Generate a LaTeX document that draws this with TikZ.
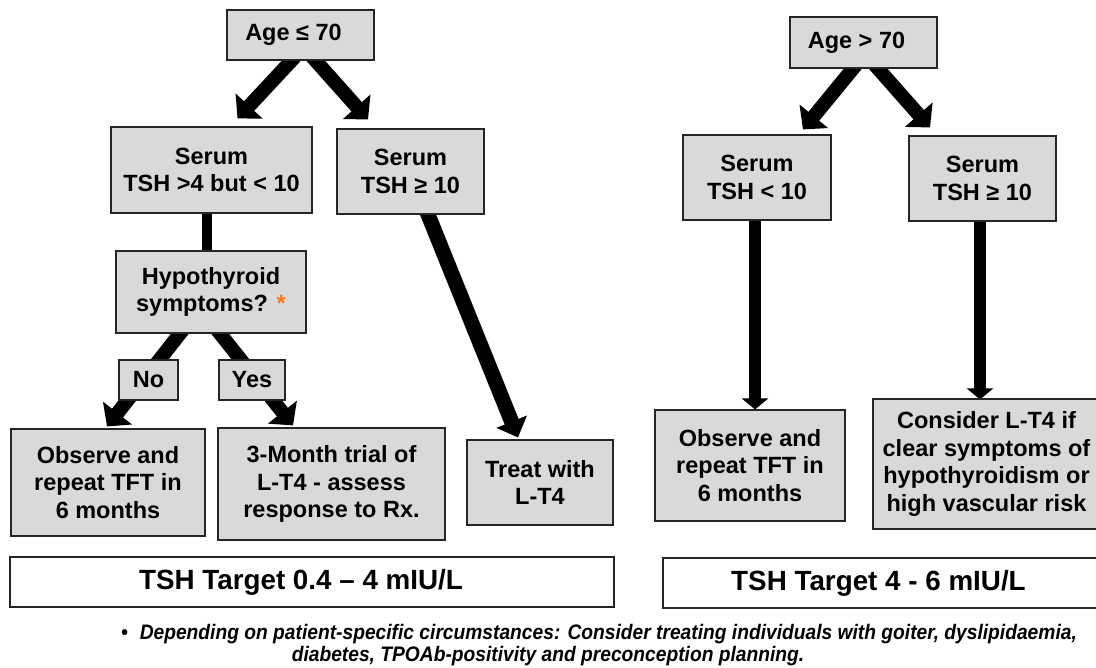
\documentclass[tikz,border=0pt]{standalone}
\usepackage{fontspec}
\setmainfont{Liberation Sans}
\usetikzlibrary{arrows.meta}
\pgfdeclarelayer{back}
\pgfdeclarelayer{bg}
\pgfsetlayers{back,bg,main}
\definecolor{boxgray}{HTML}{D9D9D9}
\definecolor{astorange}{HTML}{F7791E}
\begin{document}
\begin{tikzpicture}[x=1pt,y=-1pt,
  box/.style={draw=black!85, line width=1.1pt, fill=boxgray, inner sep=0pt, align=center,
    font=\bfseries\fontsize{23.5}{27.5}\selectfont},
  tgt/.style={draw=black!85, line width=1.1pt, fill=white, inner sep=0pt,
    font=\bfseries\fontsize{27.8}{30}\selectfont},
  fat/.style={line width=14pt, -{Triangle[width=36pt,length=17pt]}},
  fatter/.style={line width=15pt, -{Triangle[width=32pt,length=17pt]}},
  vert/.style={line width=12pt, -{Triangle[width=26pt,length=11pt]}},
  bar/.style={line width=10pt},
  foot/.style={inner sep=0pt, font=\bfseries\itshape\fontsize{21}{22}\selectfont}
]
\useasboundingbox (0,0) rectangle (1096,668);
\begin{pgfonlayer}{back}
  \fill[white] (0,0) rectangle (1096,668);
\end{pgfonlayer}
\clip (0,0) rectangle (1096,668);

% left tree
\node[box, minimum width=147pt, minimum height=50pt] (a1) at (300.5,35) {Age ≤ 70\hspace*{14pt}};
\node[box, minimum width=201pt, minimum height=86pt] (s1) at (211.5,170) {Serum\\TSH >4 but < 10};
\node[box, minimum width=147pt, minimum height=85pt] (s2) at (410.5,171.5) {Serum\\TSH ≥ 10};
\node[box, minimum width=190pt, minimum height=82pt] (hyp) at (211,292) {Hypothyroid\\symptoms? {\color{astorange}*}};
\node[box, minimum width=59pt, minimum height=40pt] (no) at (148.5,380) {No};
\node[box, minimum width=66pt, minimum height=40pt] (yes) at (252,380) {Yes};
\node[box, minimum width=194pt, minimum height=107pt] (obsL) at (108,482.5) {Observe and\\repeat TFT in\\6 months};
\node[box, minimum width=227pt, minimum height=112pt] (trial) at (331.5,484) {3-Month trial of\\L-T4 - assess\\response to Rx.};
\node[box, minimum width=146pt, minimum height=85pt] (treat) at (540,482.5) {Treat with\\L-T4};
\node[tgt, minimum width=604pt, minimum height=50pt] (tgtL) at (312,582) {TSH Target 0.4 – 4 mIU/L\hspace*{22pt}};

% right tree
\node[box, minimum width=147pt, minimum height=51pt] (a2) at (863.5,42.5) {Age > 70\hspace*{14pt}};
\node[box, minimum width=148pt, minimum height=85pt] (r1) at (757,177.5) {Serum\\TSH < 10};
\node[box, minimum width=147pt, minimum height=85pt] (r2) at (982.5,178.5) {Serum\\TSH ≥ 10};
\node[box, minimum width=190pt, minimum height=111pt] (obsR) at (750,465.5) {Observe and\\repeat TFT in\\6 months};
\node[box, minimum width=227pt, minimum height=130pt] (cons) at (986.5,464) {Consider L-T4 if\\clear symptoms of\\hypothyroidism or\\high vascular risk};
\node[tgt, minimum width=437pt, minimum height=50pt] (tgtR) at (881.5,583) {TSH Target 4 - 6 mIU/L\hspace*{6pt}};

% footnote
\node[foot] (f1) at (599,634) {\scalebox{0.915}[1]{•\hspace{13pt}Depending on patient-specific circumstances: Consider treating individuals with goiter, dyslipidaemia,}};
\node[foot] (f2) at (548,656) {\scalebox{0.915}[1]{diabetes, TPOAb-positivity and preconception planning.}};

% connectors
\begin{pgfonlayer}{bg}
  \draw[fat, shorten <=-8pt] ([xshift=-9pt]a1.south) -- ([xshift=26pt,yshift=8pt]s1.north);
  \draw[fat, shorten <=-8pt] ([xshift=15pt]a1.south) -- ([xshift=-42.5pt,yshift=9pt]s2.north);
  \draw[bar] ([xshift=-4.5pt,yshift=2pt]s1.south) -- ([xshift=-4.5pt,yshift=-2pt]s1.south |- hyp.north);
  \draw[fat, shorten <=-8pt] ([xshift=-31pt]hyp.south) -- ([xshift=-1pt,yshift=2pt]obsL.north);
  \draw[fat, shorten <=-8pt] ([xshift=9pt]hyp.south) -- ([xshift=-38.5pt,yshift=2pt]trial.north);
  \draw[fatter, shorten <=-8pt] ([xshift=17.5pt]s2.south) -- ([xshift=-22pt,yshift=2pt]treat.north);
  \draw[fat, shorten <=-8pt] ([xshift=-10.5pt]a2.south) -- ([xshift=46pt,yshift=5pt]r1.north);
  \draw[fat, shorten <=-8pt] ([xshift=14.5pt]a2.south) -- ([xshift=-52.5pt,yshift=8pt]r2.north);
  \draw[vert, shorten <=-4pt] ([xshift=-2pt]r1.south) -- ([xshift=-2pt]r1.south |- obsR.north);
  \draw[vert, shorten <=-4pt] ([xshift=-2.5pt]r2.south) -- ([xshift=-2.5pt,yshift=-1pt]r2.south |- cons.north);
\end{pgfonlayer}
\end{tikzpicture}
\end{document}
